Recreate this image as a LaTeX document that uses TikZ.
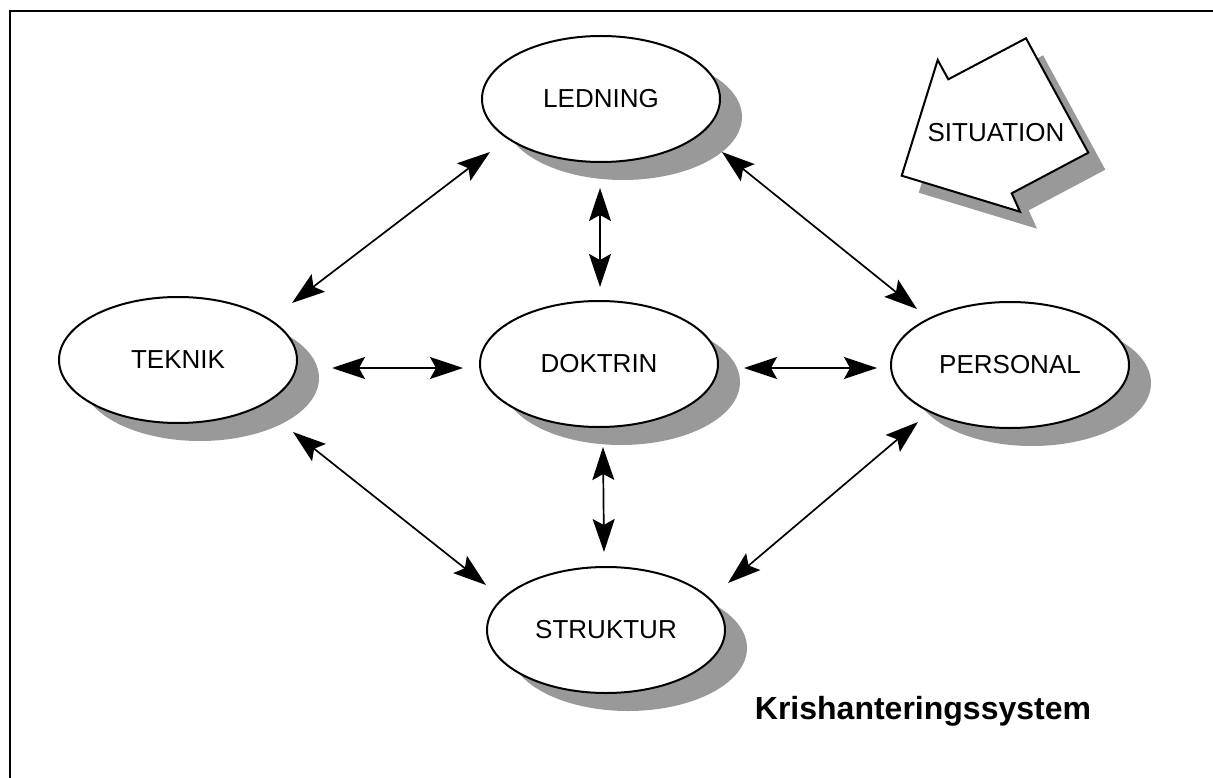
\documentclass[tikz,border=0pt]{standalone}
\usepackage{fontspec}
\setmainfont{Liberation Sans}
\usetikzlibrary{arrows.meta,calc,shapes.geometric,shadows}
\definecolor{shgray}{RGB}{153,153,153}
\begin{document}
\begin{tikzpicture}[x=1pt,y=-1pt,
  box/.style={ellipse, draw, line width=2pt, fill=white, minimum width=238pt, minimum height=126pt, inner sep=0pt,
    font=\fontsize{26}{30}\selectfont,
    drop shadow={shadow xshift=22pt, shadow yshift=-18pt, fill=shgray, opacity=1}},
  tipstyle/.tip={Stealth[length=33pt,width=22pt,inset=6pt]},
  link/.style={line width=1.7pt, tipstyle-tipstyle},
  frame/.style={line width=2pt}
]
\useasboundingbox (0,0) rectangle (1213,778);
\draw[frame] (10,778) -- (10,11) -- (1213,11);

\node[box] (ledning) at (601,99) {LEDNING};
\node[box] (teknik) at (178,360) {TEKNIK};
\node[box] (doktrin) at (599,364) {DOKTRIN};
\node[box] (personal) at (1010,365) {PERSONAL};
\node[box] (struktur) at (606,630) {STRUKTUR};

% situation block arrow
\fill[shgray, shift={(17,17)}] (937.7,60) -- (948.3,79.3) -- (1026,38.3) -- (1088.3,152.7) -- (1011.7,193.3) -- (1020,211.7) -- (901.7,175.7) -- cycle;
\draw[line width=2pt, fill=white, line join=miter] (937.7,60) -- (948.3,79.3) -- (1026,38.3) -- (1088.3,152.7) -- (1011.7,193.3) -- (1020,211.7) -- (901.7,175.7) -- cycle;
\node[font=\fontsize{26}{30}\selectfont] (situation) at (996,133) {SITUATION};

\draw[link] ($(ledning)+(-111,53)$) -- ($(teknik)+(114,-57)$);
\draw[link] ($(ledning)+(-1,89)$) -- ($(doktrin)+(1,-77)$);
\draw[link] ($(ledning)+(121,53)$) -- ($(personal)+(-93,-56)$);
\draw[link] ($(teknik)+(154,8)$) -- ($(doktrin)+(-136,4)$);
\draw[link] ($(doktrin)+(145,4)$) -- ($(personal)+(-133,3)$);
\draw[link] ($(doktrin)+(4,83)$) -- ($(struktur)+(-2,-78)$);
\draw[link] ($(teknik)+(115,72)$) -- ($(struktur)+(-120,-45)$);
\draw[link] ($(personal)+(-92,57)$) -- ($(struktur)+(122,-47)$);

\node[font=\bfseries\fontsize{32}{37}\selectfont, anchor=base] (title) at (923,719) {Krishanteringssystem};
\end{tikzpicture}
\end{document}
